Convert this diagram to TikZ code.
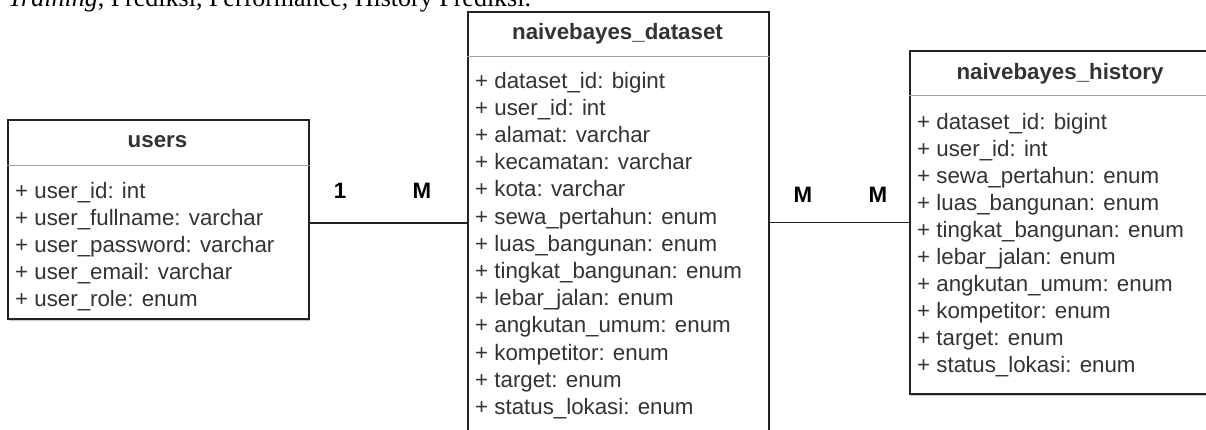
\documentclass[tikz,border=0pt]{standalone}
\usepackage{fontspec}
\usetikzlibrary{shadows}
\setmainfont{Liberation Sans}
\newfontfamily\serifrm{Liberation Serif}
\definecolor{ink}{HTML}{333333}
\definecolor{edge}{HTML}{222222}
\definecolor{sepc}{HTML}{A0A0A0}
\begin{document}
\begin{tikzpicture}[x=1pt,y=-1pt,
  box/.style={draw=edge, line width=1.7pt, fill=white, inner sep=0pt, anchor=north west,
    drop shadow={shadow xshift=1.5pt, shadow yshift=-2pt, opacity=0.35, fill=black!60}},
  sepline/.style={draw=sepc, line width=1pt},
  field/.style={anchor=base west, inner sep=0pt, text=ink, font=\fontsize{22.3}{24}\selectfont},
  head/.style={anchor=base, inner sep=0pt, text=ink, font=\fontsize{22.3}{24}\selectfont\bfseries},
  card/.style={anchor=base, inner sep=0pt, text=black, font=\fontsize{22.3}{24}\selectfont\bfseries},
  conn/.style={draw=edge, line width=1.6pt}]
\useasboundingbox (0,0) rectangle (1206,429);
% boxes
\node[box, minimum width=301pt, minimum height=199pt] (users) at (7,119) {};
\node[box, minimum width=301pt, minimum height=440pt] (dataset) at (467,11) {};
\node[box, minimum width=310pt, minimum height=343pt] (history) at (909,50) {};
% cut caption line at top
\node[anchor=base west, inner sep=0pt, font=\serifrm\fontsize{26}{28}\selectfont] (cap) at (8,6) {\textit{Training}, Prediksi, Performance, History Prediksi.};
% header separators
\draw[sepline] ([yshift=-46pt]users.north west) -- ([yshift=-46pt]users.north east);
\draw[sepline] ([yshift=-45pt]dataset.north west) -- ([yshift=-45pt]dataset.north east);
\draw[sepline] ([yshift=-45pt]history.north west) -- ([yshift=-45pt]history.north east);
% headers
\node[head] (uh) at (157.5,147) {users};
\node[head] (dh) at (617.5,39) {naivebayes\_dataset};
\node[head] (hh) at (1060,79) {naivebayes\_history};
% users fields
\foreach \t [count=\i from 0] in {user\_id: int, user\_fullname: varchar, user\_password: varchar, user\_email: varchar, user\_role: enum}
  \node[field] (u\i) at (15,198+27*\i) {+ \t};
% dataset fields
\foreach \t [count=\i from 0] in {dataset\_id: bigint, user\_id: int, alamat: varchar, kecamatan: varchar, kota: varchar, sewa\_pertahun: enum, luas\_bangunan: enum, tingkat\_bangunan: enum, lebar\_jalan: enum, angkutan\_umum: enum, kompetitor: enum, target: enum, status\_lokasi: enum}
  \node[field] (d\i) at (475,88+27.2*\i) {+ \t};
% history fields
\foreach \t [count=\i from 0] in {dataset\_id: bigint, user\_id: int, sewa\_pertahun: enum, luas\_bangunan: enum, tingkat\_bangunan: enum, lebar\_jalan: enum, angkutan\_umum: enum, kompetitor: enum, target: enum, status\_lokasi: enum}
  \node[field] (h\i) at (917,129+27*\i) {+ \t};
% connectors
\draw[conn] ([yshift=-3.5pt]users.east) -- ([yshift=-3.5pt]users.east -| dataset.west);
\draw[conn] (history.west -| dataset.east) -- (history.west);
% cardinalities
\node[card] (c1) at (340,198) {1};
\node[card] (c2) at (422,198) {M};
\node[card] (c3) at (803,202) {M};
\node[card] (c4) at (878,202) {M};
\end{tikzpicture}
\end{document}
